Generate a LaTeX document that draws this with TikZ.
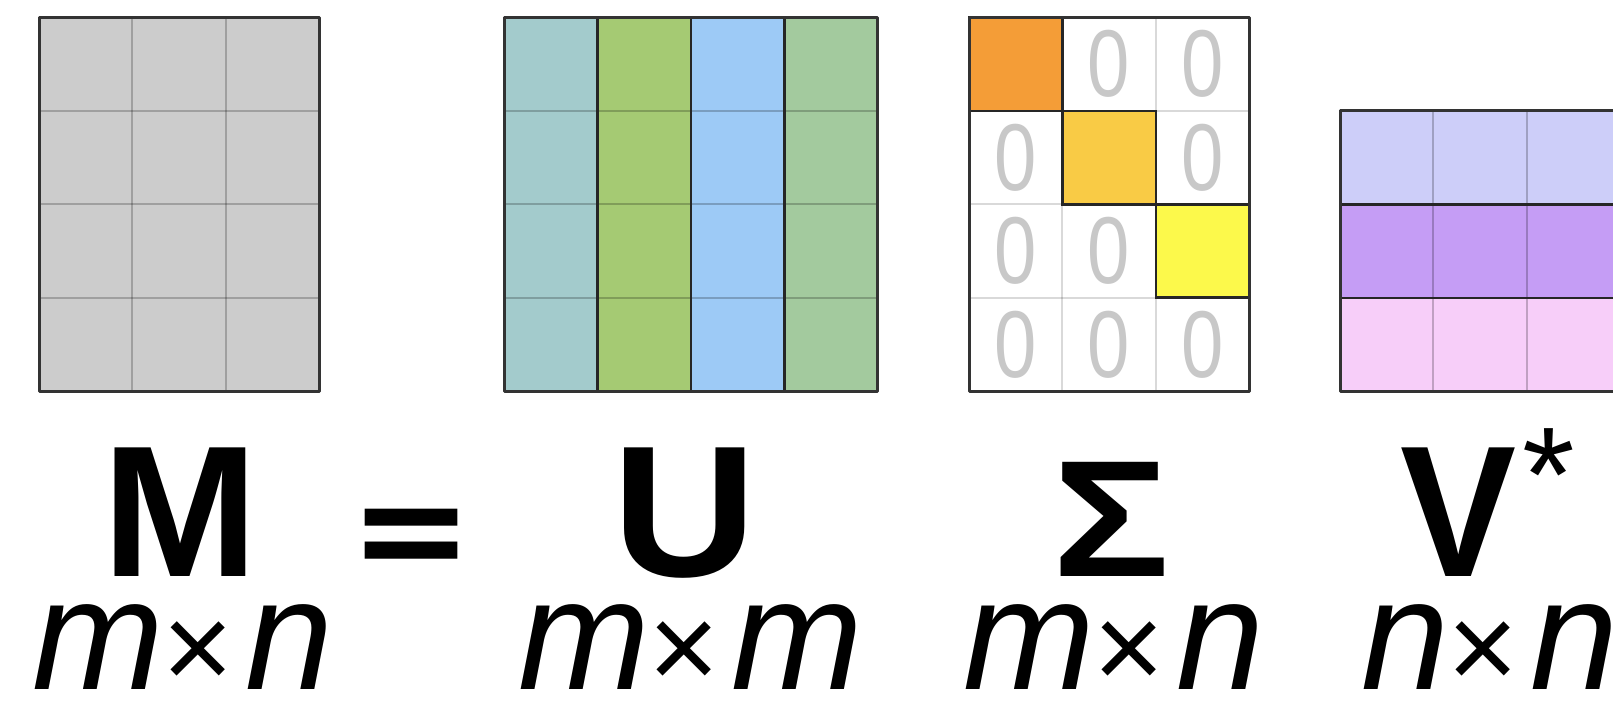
\documentclass[tikz,border=0pt]{standalone}
\usepackage{fontspec}
\setmainfont{Liberation Sans}
\newfontfamily\eqfont{DejaVu Sans}
\definecolor{mcell}{HTML}{CCCCCC}
\definecolor{ucA}{HTML}{A3CBCC}
\definecolor{ucB}{HTML}{A5CA73}
\definecolor{ucC}{HTML}{9DCAF6}
\definecolor{ucD}{HTML}{A3CA9E}
\definecolor{sA}{HTML}{F49D37}
\definecolor{sB}{HTML}{F9CB45}
\definecolor{sC}{HTML}{FCF94B}
\definecolor{vA}{HTML}{CDCEF9}
\definecolor{vB}{HTML}{C59DF5}
\definecolor{vC}{HTML}{F7CEF9}
\definecolor{zerogray}{HTML}{C8C8C8}
\definecolor{edge}{HTML}{333333}
\def\cellw{93.4}
\newcommand\timessym{{\fontsize{122}{122}\selectfont\upshape\kern-2pt ×\kern12pt}}
\tikzset{
  outer/.style={draw=edge, line width=3pt, line join=round},
  thinline/.style={draw=black, draw opacity=0.22, line width=2pt},
  divline/.style={draw=black!85, line width=2.6pt},
  bigsym/.style={font=\fontsize{187}{187}\selectfont\bfseries, inner sep=0pt, anchor=base},
  dimtext/.style={font=\fontsize{158}{158}\selectfont\itshape, inner sep=0pt, anchor=base},
  zerotext/.style={font=\fontsize{95}{95}\selectfont, text=zerogray, inner sep=0pt, xscale=0.8}
}
\begin{document}
\begin{tikzpicture}[x=1pt,y=-1pt]
\useasboundingbox (0,0) rectangle (1613,714);
\fill[white] (0,0) rectangle (1613,714);
\begin{scope}
\clip (0,0) rectangle (1613,714);
% ---- M ----
\fill[mcell] (39,17.5) rectangle ++(3*\cellw,4*\cellw);
\foreach \i in {1,2} \draw[thinline] (39+\i*\cellw,17.5) -- ++(0,4*\cellw);
\foreach \j in {1,2,3} \draw[thinline] (39,17.5+\j*\cellw) -- ++(3*\cellw,0);
\draw[outer] (39,17.5) rectangle ++(3*\cellw,4*\cellw);
% ---- U ----
\foreach \col [count=\k from 0] in {ucA,ucB,ucC,ucD}
  \fill[\col] (504+\k*\cellw,17.5) rectangle ++(\cellw,4*\cellw);
\foreach \j in {1,2,3} \draw[thinline] (504,17.5+\j*\cellw) -- ++(4*\cellw,0);
\foreach \i in {1,2,3} \draw[divline] (504+\i*\cellw,17.5) -- ++(0,4*\cellw);
\draw[outer] (504,17.5) rectangle ++(4*\cellw,4*\cellw);
% ---- Sigma ----
\fill[white] (969,17.5) rectangle ++(3*\cellw,4*\cellw);
\foreach \i in {1,2} \draw[thinline, draw opacity=0.15] (969+\i*\cellw,17.5) -- ++(0,4*\cellw);
\foreach \j in {1,2,3} \draw[thinline, draw opacity=0.15] (969,17.5+\j*\cellw) -- ++(3*\cellw,0);
\foreach \col [count=\k from 0] in {sA,sB,sC}
  \filldraw[fill=\col, divline] (969+\k*\cellw,17.5+\k*\cellw) rectangle ++(\cellw,\cellw);
\foreach \i/\j in {1/0,2/0,0/1,2/1,0/2,1/2,0/3,1/3,2/3}
  \node[zerotext] (z\i\j) at (969+\i*\cellw+0.5*\cellw,17.5+\j*\cellw+0.5*\cellw) {0};
\draw[outer] (969,17.5) rectangle ++(3*\cellw,4*\cellw);
% ---- V* ----
\foreach \col [count=\k from 0] in {vA,vB,vC}
  \fill[\col] (1340,111+\k*\cellw) rectangle ++(3*\cellw,\cellw);
\foreach \i in {1,2} \draw[thinline] (1340+\i*\cellw,111) -- ++(0,3*\cellw);
\foreach \j in {1,2} \draw[divline] (1340,111+\j*\cellw) -- ++(3*\cellw,0);
\draw[outer] (1340,111) rectangle ++(3*\cellw,3*\cellw);
% ---- symbols ----
\node[bigsym] (labM) at (180,576) {M};
\node[inner sep=0pt, anchor=base, font=\fontsize{148}{148}\selectfont\eqfont\bfseries] (eq) at (411,580.5) {=};
\node[bigsym, xscale=1.07] (labU) at (685,576) {U};
\node[bigsym, font=\fontsize{166}{166}\selectfont\bfseries, xscale=1.18] (labS) at (1111,576) {Σ};
\node[bigsym, anchor=base west, xscale=0.93] (labV) at (1400,576) {V};
\node[font=\fontsize{135}{135}\selectfont, inner sep=0pt] (star) at (1549,475) {*};
% ---- dimensions ----
\node[dimtext] (dM) at (183,689) {m\timessym n};
\node[dimtext] (dU) at (691,689) {m\timessym m};
\node[dimtext] (dS) at (1114,689) {m\timessym n};
\node[dimtext, anchor=base west] (dV) at (1361,689) {n\timessym n};
\end{scope}
\end{tikzpicture}
\end{document}
